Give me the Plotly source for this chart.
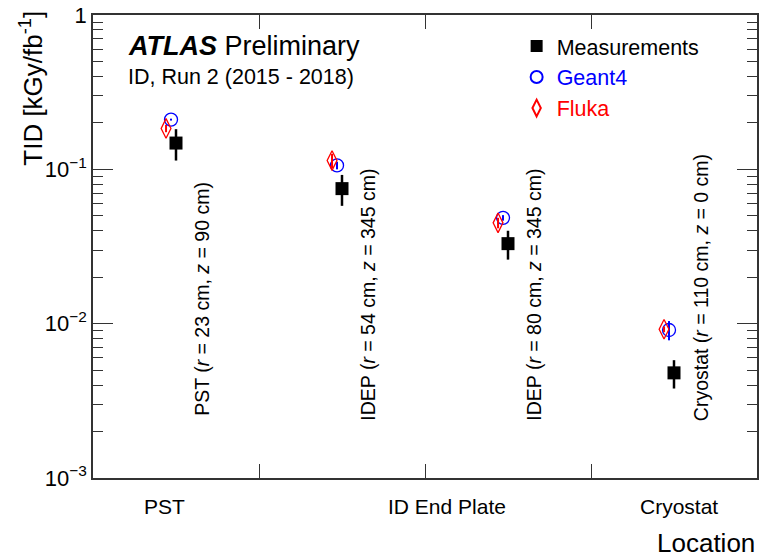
import plotly.graph_objects as go

# Total ionising dose per fb^-1 at four ID locations
location_names = ["PST", "IDEP", "IDEP", "Cryostat"]
r_cm = [23, 54, 80, 110]
z_cm = [90, 345, 345, 0]

measured = [0.148, 0.075, 0.033, 0.0048]
measured_err = [0.034, 0.017, 0.007, 0.0010]
geant4 = [0.210, 0.106, 0.0485, 0.0091]
geant4_err = [0.003, 0.006, 0.002, 0.0013]
fluka = [0.184, 0.114, 0.045, 0.0092]
fluka_err = [0.010, 0.012, 0.0035, 0.0004]

region_labels = ["PST", "ID End Plate", "Cryostat"]
region_label_x = [0.43, 2.13, 3.53]

FONT = "Liberation Sans, Arial, Helvetica, sans-serif"
bin_x = [i + 0.5 for i in range(len(measured))]

fig = go.Figure()

fig.add_trace(go.Scatter(
    x=bin_x, y=measured, mode="markers", name="Measurements",
    marker=dict(symbol="square", size=13, color="black"),
    error_y=dict(type="data", array=measured_err, color="black", thickness=2.5, width=0),
))
fig.add_trace(go.Scatter(
    x=[v - 0.03 for v in bin_x], y=geant4, mode="markers",
    name="<span style='color:#0000ff'>Geant4</span>",
    marker=dict(symbol="circle-open", size=13, color="#0000ff", line=dict(width=1.3)),
    error_y=dict(type="data", array=geant4_err, color="#0000ff", thickness=2, width=0),
))
fig.add_trace(go.Scatter(
    x=[v - 0.06 for v in bin_x], y=fluka, mode="markers",
    name="<span style='color:#ff0000'>Fluka</span>",
    marker=dict(symbol="diamond-tall-open", size=14, color="#ff0000", line=dict(width=1.3)),
    error_y=dict(type="data", array=fluka_err, color="#ff0000", thickness=2, width=0),
))

# Rotated location descriptions next to each point
label_bottom = [0.129, 0.1185, 0.1185, 0.1185]
for i, name in enumerate(location_names):
    fig.add_annotation(
        x=bin_x[i] + 0.16, xref="x", y=label_bottom[i], yref="paper",
        text=f"{name} (<i>r</i> = {r_cm[i]} cm, <i>z</i> = {z_cm[i]} cm)",
        textangle=-90, showarrow=False, xanchor="center", yanchor="bottom",
        font=dict(family=FONT, size=19.5, color="black"),
    )

# Region labels under the x axis
for lab, xv in zip(region_labels, region_label_x):
    fig.add_annotation(
        x=xv, xref="x", y=-0.062, yref="paper", text=lab, showarrow=False,
        xanchor="center", yanchor="middle",
        font=dict(family=FONT, size=21, color="black"),
    )

# ATLAS label
fig.add_annotation(
    x=0.050, y=0.932, xref="paper", yref="paper", xanchor="left", yanchor="middle",
    text="<b><i>ATLAS</i></b> Preliminary", showarrow=False,
    font=dict(family=FONT, size=27, color="black"),
)
fig.add_annotation(
    x=0.050, y=0.867, xref="paper", yref="paper", xanchor="left", yanchor="middle",
    text="ID, Run 2 (2015 - 2018)", showarrow=False,
    font=dict(family=FONT, size=21.5, color="black"),
)

# Axis titles
fig.add_annotation(
    x=1.0, y=-0.14, xref="paper", yref="paper", xanchor="right", yanchor="middle",
    text="Location", showarrow=False,
    font=dict(family=FONT, size=26, color="black"),
)
fig.add_annotation(
    x=-0.093, y=1.013, xref="paper", yref="paper", xanchor="center", yanchor="top",
    text="TID [kGy/fb<sup>-1</sup>]", textangle=-90, showarrow=False,
    font=dict(family=FONT, size=26, color="black"),
)

axis_color = "#333333"
fig.update_xaxes(
    range=[0, 4], tickvals=[1, 2, 3], showticklabels=False,
    ticks="inside", ticklen=14, tickwidth=1, tickcolor=axis_color,
    showline=True, linecolor=axis_color, linewidth=1.5, mirror="allticks",
    showgrid=False, zeroline=False,
)
fig.update_yaxes(
    type="log", range=[-3, 0],
    tickvals=[0.001, 0.01, 0.1, 1],
    ticktext=["10<sup>\u22123</sup>", "10<sup>\u22122</sup>", "10<sup>\u22121</sup>", "1"],
    ticks="inside", ticklen=20, tickwidth=1, tickcolor=axis_color,
    minor=dict(ticks="inside", ticklen=10, dtick="D1", tickcolor=axis_color, tickwidth=1, showgrid=False),
    showline=True, linecolor=axis_color, linewidth=1.5, mirror="allticks",
    showgrid=False, zeroline=False,
    tickfont=dict(family=FONT, size=22, color="black"),
)

fig.update_layout(
    width=762, height=558,
    margin=dict(l=93, r=3, t=14, b=80),
    paper_bgcolor="white", plot_bgcolor="white",
    font=dict(family=FONT, color="black"),
    showlegend=True,
    legend=dict(
        x=0.638, y=0.977, xanchor="left", yanchor="top",
        bgcolor="rgba(0,0,0,0)", font=dict(family=FONT, size=21.5, color="black"),
        itemsizing="constant", tracegroupgap=0,
    ),
)

fig.write_html("out.html")
